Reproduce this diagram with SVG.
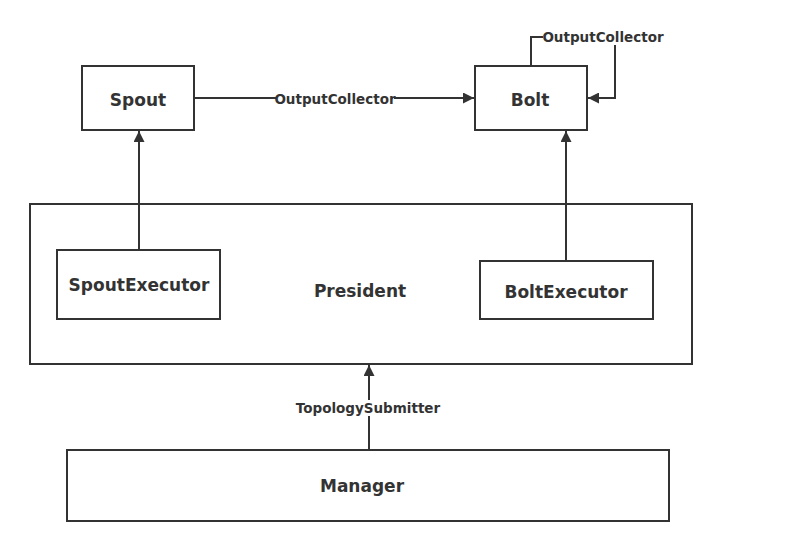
<svg xmlns="http://www.w3.org/2000/svg" width="796" height="559" viewBox="0 0 796 559">
<style>
.box{fill:#fff;stroke:#333;stroke-width:2}
.lbl{font-family:"DejaVu Sans","Liberation Sans",sans-serif;font-weight:bold;font-size:17px;fill:#333;text-anchor:middle;dominant-baseline:central}
.elbl{font-family:"DejaVu Sans","Liberation Sans",sans-serif;font-weight:bold;font-size:13.5px;fill:#333;text-anchor:middle;dominant-baseline:central}
.edge{fill:none;stroke:#333;stroke-width:2}
.bg{fill:#fff}
</style>
<defs>
<marker id="arrL" viewBox="0 0 10 10" refX="10" refY="5" markerWidth="16" markerHeight="11" markerUnits="userSpaceOnUse" orient="auto">
<path d="M0,0 L10,5 L0,10 z" fill="#333"/>
</marker>
</defs>
<rect width="796" height="559" fill="#fff"/>
<g id="president"><rect class="box" x="30" y="204" width="662" height="160"/><text class="lbl" x="360" y="291">President</text></g>
<g id="spout"><rect class="box" x="82" y="66" width="112" height="64"/><text class="lbl" x="138" y="100">Spout</text></g>
<g id="bolt"><rect class="box" x="475" y="66" width="112" height="64"/><text class="lbl" x="530" y="100">Bolt</text></g>
<g id="spoutexecutor"><rect class="box" x="57" y="250" width="163" height="69"/><text class="lbl" x="139" y="285">SpoutExecutor</text></g>
<g id="boltexecutor"><rect class="box" x="480" y="261" width="173" height="58"/><text class="lbl" x="566" y="292">BoltExecutor</text></g>
<g id="manager"><rect class="box" x="67" y="450" width="602" height="71"/><text class="lbl" x="362" y="486">Manager</text></g>
<g id="connectors">
<path class="edge" d="M194,98 L474,98" marker-end="url(#arrL)"/>
<rect class="bg" x="276" y="91" width="118" height="16"/>
<text class="elbl" x="335" y="99">OutputCollector</text>
<path class="edge" d="M531,66 L531,37 L615,37 L615,98 L588,98" marker-end="url(#arrL)"/>
<rect class="bg" x="543" y="29" width="120" height="16"/>
<text class="elbl" x="603" y="37">OutputCollector</text>
<path class="edge" d="M139,250 L139,131" marker-end="url(#arrL)"/>
<path class="edge" d="M566,261 L566,131" marker-end="url(#arrL)"/>
<path class="edge" d="M369,450 L369,365" marker-end="url(#arrL)"/>
<rect class="bg" x="297" y="400" width="143" height="16"/>
<text class="elbl" x="368" y="408">TopologySubmitter</text>
</g>
</svg>
